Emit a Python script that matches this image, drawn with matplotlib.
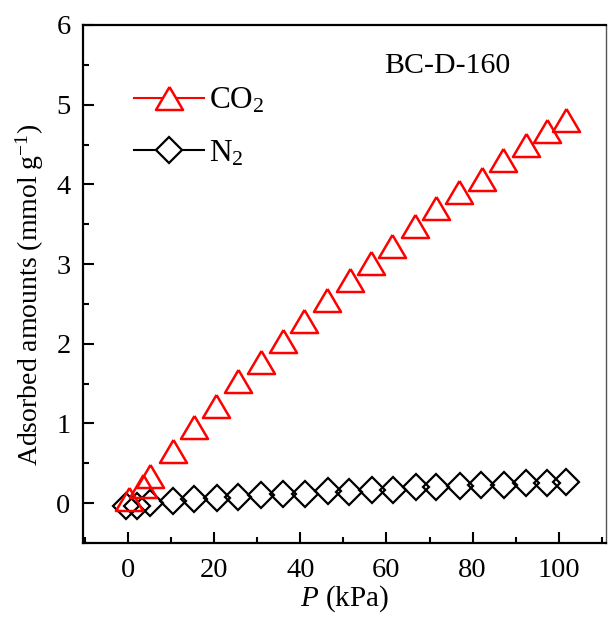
import matplotlib
matplotlib.use('Agg')
import matplotlib.pyplot as plt
from matplotlib.lines import Line2D
from matplotlib.ticker import MultipleLocator

plt.rcParams['font.family'] = ['Liberation Serif', 'DejaVu Serif']
plt.rcParams['mathtext.fontset'] = 'custom'
plt.rcParams['mathtext.rm'] = 'Liberation Serif'
plt.rcParams['mathtext.it'] = 'Liberation Serif:italic'

# CO2 isotherm
p_co2 = [0.2, 3.4, 5.1, 10.3, 15.4, 20.4, 25.6, 30.8, 36.0, 40.9, 46.2,
         51.5, 56.4, 61.4, 66.6, 71.6, 76.8, 82.2, 87.0, 92.3, 97.4, 101.6]
q_co2 = [0.05, 0.22, 0.34, 0.66, 0.95, 1.22, 1.53, 1.77, 2.03, 2.28, 2.55,
         2.80, 3.01, 3.23, 3.48, 3.70, 3.90, 4.07, 4.30, 4.50, 4.67, 4.81]

# N2 isotherm
p_n2 = [-0.5, 2.0, 5.1, 10.4, 15.4, 20.6, 25.6, 30.8, 35.9, 41.1, 46.5,
        51.4, 56.7, 61.6, 66.8, 71.6, 77.0, 82.0, 87.2, 92.5, 97.3, 101.8]
q_n2 = [-0.03, -0.03, 0.0, 0.025, 0.05, 0.07, 0.08, 0.10, 0.11, 0.12, 0.15,
        0.14, 0.17, 0.17, 0.20, 0.20, 0.21, 0.23, 0.23, 0.25, 0.25, 0.27]

# flattened triangle like the Origin marker
tri = [(0, 0.85), (-1, -0.85), (1, -0.85), (0, 0.85)]

fig = plt.figure(figsize=(6.08, 6.17), dpi=100)
ax = fig.add_axes([83/608, 74/617, 523/608, 518/617])

ax.plot(p_n2, q_n2, ls='none', marker='D', ms=13.5, mfc='none',
        mec='black', mew=1.6)
ax.plot(p_co2, q_co2, ls='none', marker=tri, ms=19.5, mfc='none',
        mec='red', mew=1.8)

ax.set_xlim(-10.5, 111)
ax.set_ylim(-0.5, 6)
ax.xaxis.set_major_locator(MultipleLocator(20))
ax.xaxis.set_minor_locator(MultipleLocator(10))
ax.yaxis.set_major_locator(MultipleLocator(1))
ax.yaxis.set_minor_locator(MultipleLocator(0.5))
ax.tick_params(which='major', direction='in', top=False, right=False,
               width=1.5, length=8, pad=9, labelsize=20.5)
ax.tick_params(axis='x', which='major', pad=11)
ax.tick_params(which='minor', direction='in', top=False, right=False,
               width=1.5, length=4.5)
for s in ['left', 'bottom', 'top']:
    ax.spines[s].set_linewidth(1.6)
ax.spines['right'].set_linewidth(1.0)
ax.spines['right'].set_color('#555555')

ax.set_xlabel('$P$ (kPa)', fontsize=21, labelpad=0)
ax.set_ylabel('Adsorbed amounts (mmol g$^{-1}$)', fontsize=20)
ax.yaxis.set_label_coords(-0.07, 0.479)

ax.text(0.696, 0.921, 'BC-D-160', transform=ax.transAxes, fontsize=21.5,
        ha='center', va='center')

handles = [
    Line2D([], [], color='red', lw=1.5, marker=tri, ms=19.5, mfc='white',
           mec='red', mew=1.8),
    Line2D([], [], color='black', lw=1.5, marker='D', ms=13.5, mfc='white',
           mec='black', mew=1.6),
]
ax.legend(handles, ['CO$_2$', 'N$_2$'], loc='upper left',
          bbox_to_anchor=(0.097, 0.882), frameon=False, fontsize=22.5,
          handlelength=2.24, handletextpad=0.16, labelspacing=0.74,
          numpoints=1, borderaxespad=0, borderpad=0)

fig.savefig('out.png', dpi=100)
